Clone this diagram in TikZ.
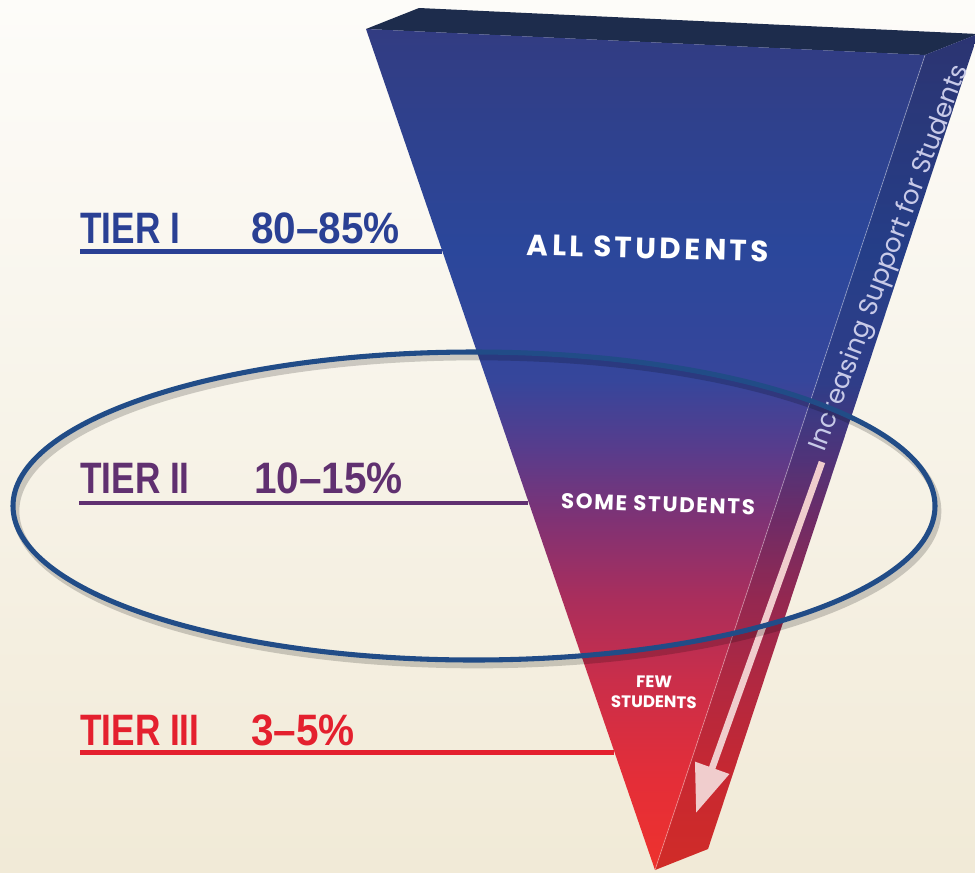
\documentclass[tikz,border=0pt]{standalone}
\usepackage{fontspec}
\usetikzlibrary{arrows.meta}
\newfontfamily\tierfont[FakeStretch=0.8]{Liberation Sans}
\newfontfamily\numfont[FakeStretch=0.92]{Liberation Sans}
\newfontfamily\labfont{Poppins}
\newfontfamily\sidefont{Poppins}
\definecolor{bgtop}{RGB}{253,252,249}
\definecolor{bgbot}{RGB}{241,234,215}
\definecolor{tierone}{RGB}{42,64,148}
\definecolor{tiertwo}{RGB}{96,48,112}
\definecolor{tierthree}{RGB}{228,32,46}
\definecolor{ellcol}{RGB}{33,76,135}
\definecolor{topface}{RGB}{29,44,76}
\definecolor{sidetext}{RGB}{200,202,232}
\definecolor{arrowcol}{RGB}{240,205,205}
\definecolor{fa}{RGB}{238,50,45}
\definecolor{fb}{RGB}{228,46,56}
\definecolor{fc}{RGB}{202,46,74}
\definecolor{fd}{RGB}{170,46,92}
\definecolor{fe}{RGB}{128,50,116}
\definecolor{ff}{RGB}{88,60,140}
\definecolor{fg}{RGB}{54,70,155}
\definecolor{fh}{RGB}{43,71,155}
\definecolor{fi}{RGB}{50,60,130}
\pgfdeclareverticalshading{funnel}{100bp}{%
  color(0bp)=(fa); color(25bp)=(fa); color(30.4bp)=(fb);
  color(36.3bp)=(fc); color(41.1bp)=(fd); color(45.8bp)=(fe);
  color(50bp)=(ff); color(54.1bp)=(fg); color(61.9bp)=(fh);
  color(75bp)=(fi); color(100bp)=(fi)}
\tikzset{
  tiertext/.style={anchor=base west, inner sep=0pt, font=\tierfont\bfseries\fontsize{33}{33}\selectfont},
  numtext/.style={anchor=base west, inner sep=0pt, font=\numfont\bfseries\fontsize{33}{33}\selectfont},
  tierline/.style={line width=3.4pt},
  inlabel/.style={text=white, inner sep=0pt, align=center},
}
\begin{document}
\begin{tikzpicture}[x=0.75pt,y=-0.75pt]
\useasboundingbox (0,0) rectangle (975,872);
% background
\shade[top color=bgtop, bottom color=bgbot] (0,0) rectangle (975,872);
% prism corners
\coordinate (fl) at (366,29);
\coordinate (fr) at (925,55);
\coordinate (tip) at (655,870);
\coordinate (bl) at (419,8);
\coordinate (br) at (978,34);
\coordinate (btip) at (708,849);
% top face
\fill[topface] (fl) -- (fr) -- (br) -- (bl) -- cycle;
% side face
\shade[shading=funnel] (fr) -- (br) -- (btip) -- (tip) -- cycle;
\fill[black, opacity=0.12] (fr) -- (br) -- (btip) -- (tip) -- cycle;
% front face
\shade[shading=funnel] (fl) -- (fr) -- (tip) -- cycle;
\draw[white, opacity=0.35, line width=0.6pt] (fr) -- (tip);
% side text and arrow
\node[rotate=69.5, text=sidetext, inner sep=0pt, font=\sidefont\fontsize{19.5}{19.5}\selectfont] (side) at (890,258) {Increasing Support for Students};
\coordinate (arrS) at (822,462);
\coordinate (arrT) at (696,813);
\draw[arrowcol, line width=5pt, -{Triangle[length=36pt,width=26pt]}] (arrS) -- (arrT);
% inner labels
\node[inlabel, rotate=-1.5, font=\labfont\bfseries\fontsize{22}{22}\selectfont\addfontfeature{LetterSpace=12}] (all) at (648,248) {ALL STUDENTS};
\node[inlabel, rotate=-2, font=\labfont\bfseries\fontsize{16}{16}\selectfont\addfontfeature{LetterSpace=8}] (some) at (658,504) {SOME STUDENTS};
\node[inlabel, rotate=-1, font=\labfont\bfseries\fontsize{12.5}{15}\selectfont] (few) at (654,692) {FEW\\STUDENTS};
% tier labels
\node[tiertext, text=tierone] (t1) at (80,243) {TIER I};
\node[numtext, text=tierone] (p1) at (251,243) {80–85\%};
\node[tiertext, text=tiertwo] (t2) at (80,493) {TIER II};
\node[numtext, text=tiertwo] (p2) at (254,493) {10–15\%};
\node[tiertext, text=tierthree] (t3) at (80,745) {TIER III};
\node[numtext, text=tierthree] (p3) at (251,745) {3–5\%};
\coordinate (l1a) at (80,251.5);
\coordinate (l1b) at (442,251.5);
\coordinate (l2a) at (79,503);
\coordinate (l2b) at (528,503);
\coordinate (l3a) at (80,752.5);
\coordinate (l3b) at (614,752.5);
\draw[tierline, tierone] (l1a) -- (l1b);
\draw[tierline, tiertwo] (l2a) -- (l2b);
\draw[tierline, tierthree] (l3a) -- (l3b);
% ellipse
\coordinate (ec) at (474,506);
\draw[black, opacity=0.18, line width=5pt] ([shift={(3,5)}]ec) ellipse [x radius=461, y radius=154];
\draw[ellcol, line width=3.8pt] (ec) ellipse [x radius=461, y radius=154];
\end{tikzpicture}
\end{document}
